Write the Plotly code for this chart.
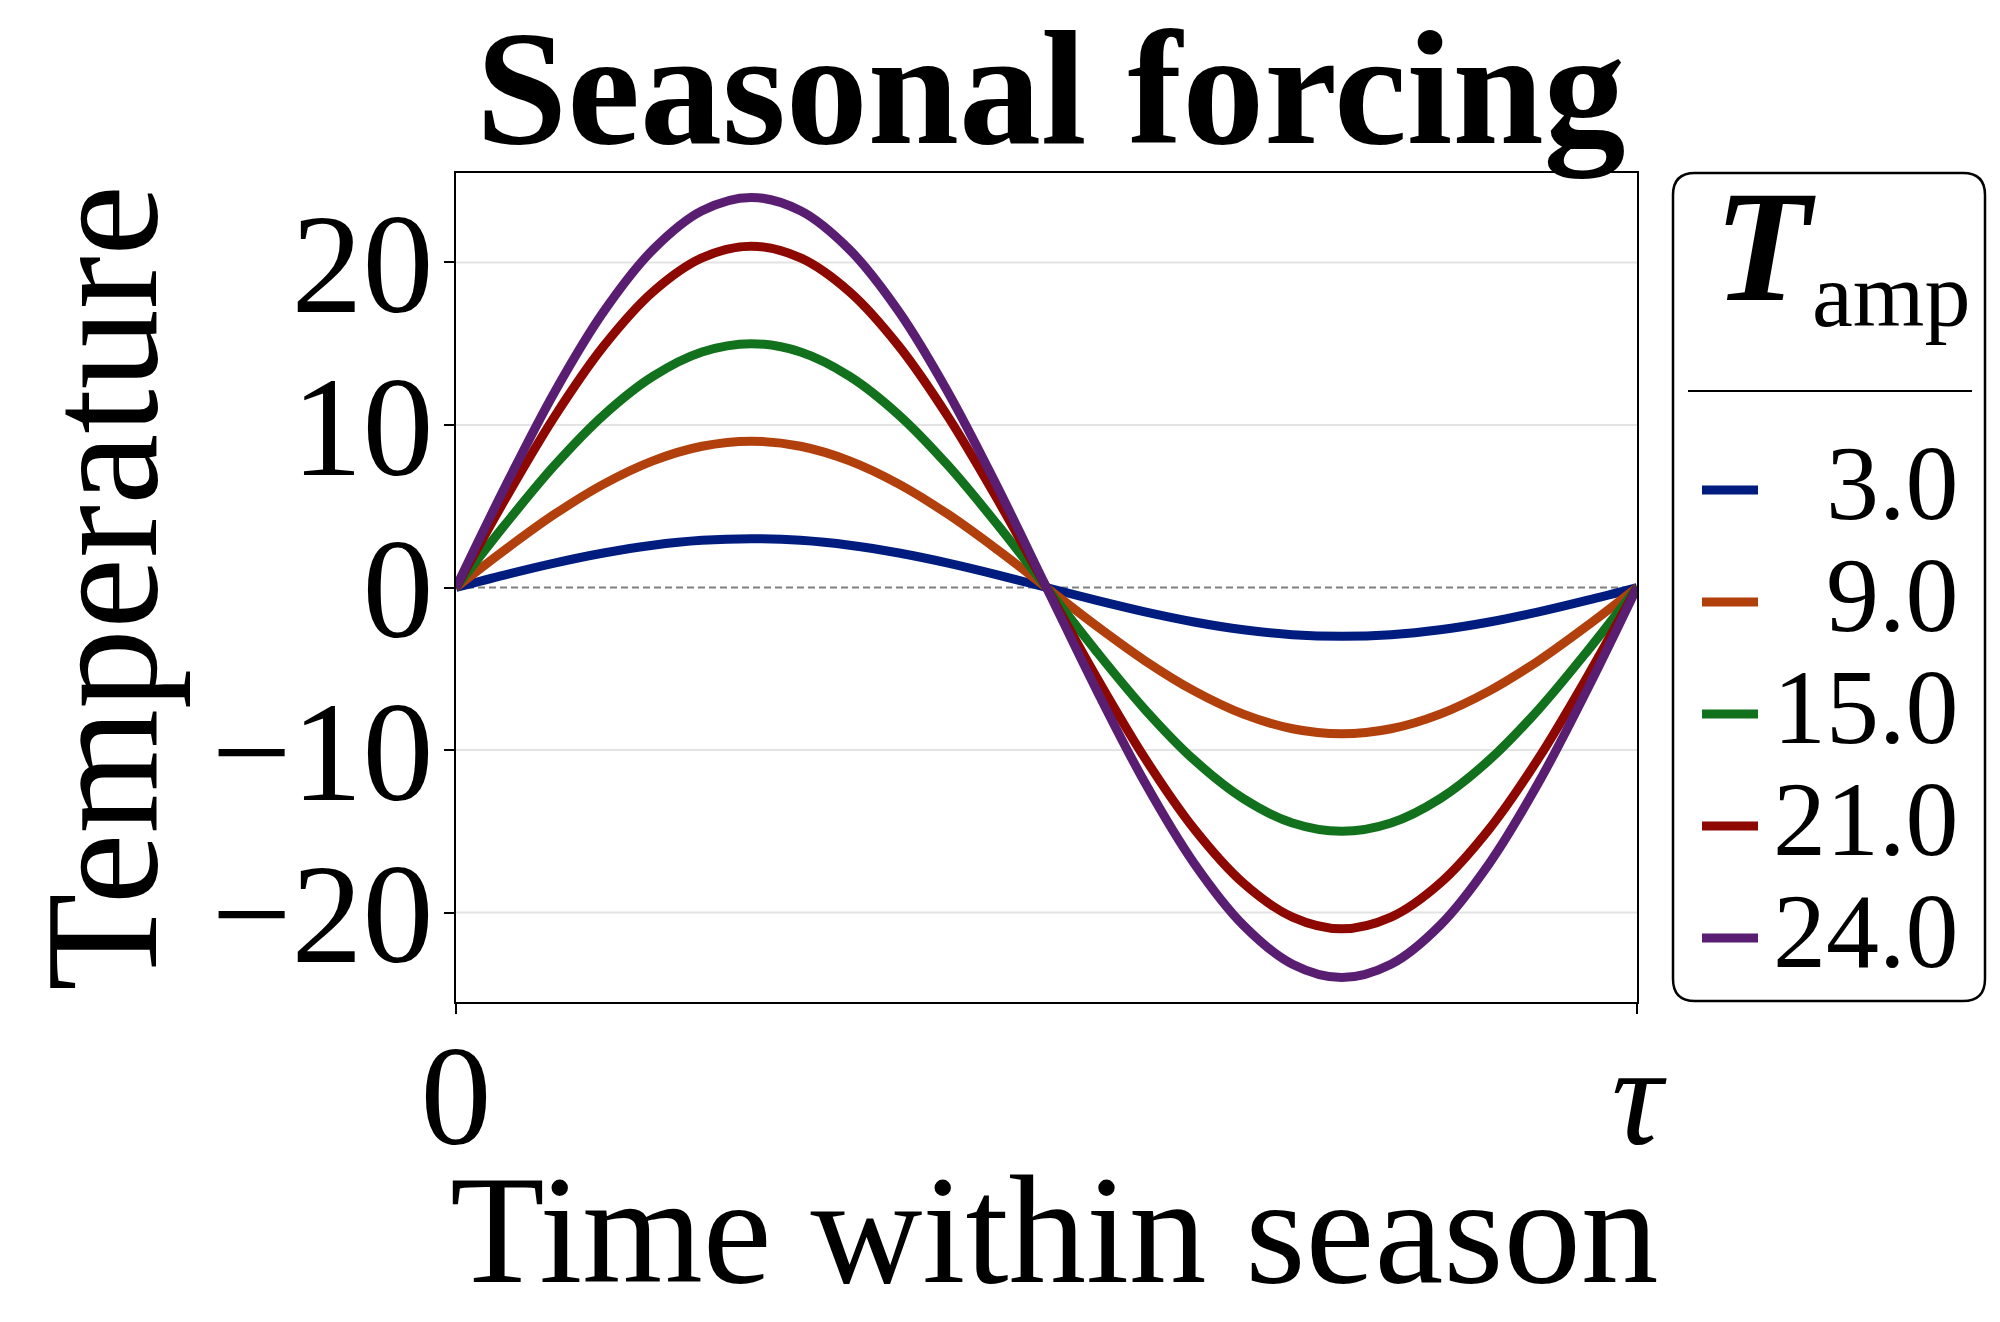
import plotly.graph_objects as go

# time within the season, as a fraction of tau
time_frac = [0, 0.0417, 0.0833, 0.125, 0.1667, 0.2083, 0.25, 0.2917, 0.3333,
             0.375, 0.4167, 0.4583, 0.5, 0.5417, 0.5833, 0.625, 0.6667,
             0.7083, 0.75, 0.7917, 0.8333, 0.875, 0.9167, 0.9583, 1.0]

amplitudes = [3.0, 9.0, 15.0, 21.0, 24.0]

temp_3 = [0, 0.78, 1.5, 2.12, 2.6, 2.9, 3.0, 2.9, 2.6, 2.12, 1.5, 0.78, 0,
          -0.78, -1.5, -2.12, -2.6, -2.9, -3.0, -2.9, -2.6, -2.12, -1.5, -0.78, 0]
temp_9 = [0, 2.33, 4.5, 6.36, 7.79, 8.69, 9.0, 8.69, 7.79, 6.36, 4.5, 2.33, 0,
          -2.33, -4.5, -6.36, -7.79, -8.69, -9.0, -8.69, -7.79, -6.36, -4.5, -2.33, 0]
temp_15 = [0, 3.88, 7.5, 10.61, 12.99, 14.49, 15.0, 14.49, 12.99, 10.61, 7.5, 3.88, 0,
           -3.88, -7.5, -10.61, -12.99, -14.49, -15.0, -14.49, -12.99, -10.61, -7.5, -3.88, 0]
temp_21 = [0, 5.44, 10.5, 14.85, 18.19, 20.28, 21.0, 20.28, 18.19, 14.85, 10.5, 5.44, 0,
           -5.44, -10.5, -14.85, -18.19, -20.28, -21.0, -20.28, -18.19, -14.85, -10.5, -5.44, 0]
temp_24 = [0, 6.21, 12.0, 16.97, 20.78, 23.18, 24.0, 23.18, 20.78, 16.97, 12.0, 6.21, 0,
           -6.21, -12.0, -16.97, -20.78, -23.18, -24.0, -23.18, -20.78, -16.97, -12.0, -6.21, 0]

series = [temp_3, temp_9, temp_15, temp_21, temp_24]
colors = ["#001c7f", "#b1400d", "#12711c", "#8c0800", "#591e71"]

y_ticks = [-20, -10, 0, 10, 20]
x_ticks = [0, 1]
x_ticktext = ["0", "<i>τ</i>"]

FONT = "Liberation Serif"

# plot area in pixels
L, R, T, B = 448, 1629, 165, 994


def px(x):
    return (x - L) / (R - L)


def py(y):
    return (B - y) / (B - T)


fig = go.Figure()

for amp, ys, col in zip(amplitudes, series, colors):
    fig.add_trace(go.Scatter(x=time_frac, y=ys, mode="lines", name=f"{amp:.1f}",
                             line=dict(color=col, width=9, shape="spline")))

# horizontal grid (drawn as shapes so the dashed zero line sits on top of it)
for v in y_ticks:
    if v != 0:
        fig.add_shape(type="line", xref="x domain", yref="y", x0=0, x1=1, y0=v, y1=v,
                      line=dict(color="#e3e3e3", width=2), layer="below")
fig.add_shape(type="line", xref="x domain", yref="y", x0=0, x1=1, y0=0, y1=0,
              line=dict(color="#808080", width=2, dash="7px,4px"), layer="below")

# legend box (rounded)
bx0, bx1, by0, by1, r = 1665, 1977, 165, 993, 22
rx, ry = r / (R - L), r / (B - T)
X0, X1, Y0, Y1 = px(bx0), px(bx1), py(by1), py(by0)
path = (f"M {X0+rx},{Y0} L {X1-rx},{Y0} Q {X1},{Y0} {X1},{Y0+ry} "
        f"L {X1},{Y1-ry} Q {X1},{Y1} {X1-rx},{Y1} L {X0+rx},{Y1} "
        f"Q {X0},{Y1} {X0},{Y1-ry} L {X0},{Y0+ry} Q {X0},{Y0} {X0+rx},{Y0} Z")
fig.add_shape(type="path", xref="paper", yref="paper", path=path,
              line=dict(color="black", width=2.5))
fig.add_shape(type="line", xref="paper", yref="paper", x0=px(1680), x1=px(1964),
              y0=py(383), y1=py(383), line=dict(color="black", width=2))

annotations = [
    dict(text="<b>Seasonal forcing</b>", x=px(1043), y=py(80), font=dict(size=164)),
    dict(text="Time within season", x=px(1046), y=py(1222), font=dict(size=155)),
    dict(text="Temperature", x=px(94), y=py(580), textangle=-90, font=dict(size=160)),
    dict(text="<b><i>T</i></b>", x=px(1757), y=py(238), font=dict(size=158)),
    dict(text="amp", x=px(1883), y=py(287), font=dict(size=92)),
]

for i, (amp, col) in enumerate(zip(amplitudes, colors)):
    yc = 482 + 112 * i
    fig.add_shape(type="line", xref="paper", yref="paper", x0=px(1694), x1=px(1750),
                  y0=py(yc), y1=py(yc), line=dict(color=col, width=9))
    annotations.append(dict(text=f"{amp:.1f}", x=px(1952), y=py(yc - 7), xanchor="right",
                            font=dict(size=106)))

for a in annotations:
    a.setdefault("xanchor", "center")
    a.update(xref="paper", yref="paper", yanchor="middle", showarrow=False, borderpad=0)
    a["font"].update(family=FONT, color="black")

fig.update_layout(
    width=2000, height=1322, autosize=False,
    margin=dict(l=L, r=2000 - R, t=T, b=1322 - B, pad=0),
    paper_bgcolor="white", plot_bgcolor="white",
    showlegend=False,
    font=dict(family=FONT, color="black"),
    annotations=annotations,
)

fig.update_xaxes(range=[0, 1], tickvals=x_ticks, ticktext=x_ticktext,
                 showgrid=False, zeroline=False, showline=True, mirror=True,
                 linecolor="black", linewidth=2, ticks="outside", ticklen=10,
                 tickwidth=2, tickcolor="black", ticklabelstandoff=-40,
                 tickfont=dict(size=142, family=FONT))
fig.update_yaxes(range=[-25.5, 25.5], tickvals=y_ticks,
                 showgrid=False, zeroline=False,
                 showline=True, mirror=True, linecolor="black", linewidth=2,
                 ticks="outside", ticklen=10, tickwidth=2, tickcolor="black",
                 ticklabelstandoff=-18, tickfont=dict(size=142, family=FONT))

fig.write_html("out.html")
